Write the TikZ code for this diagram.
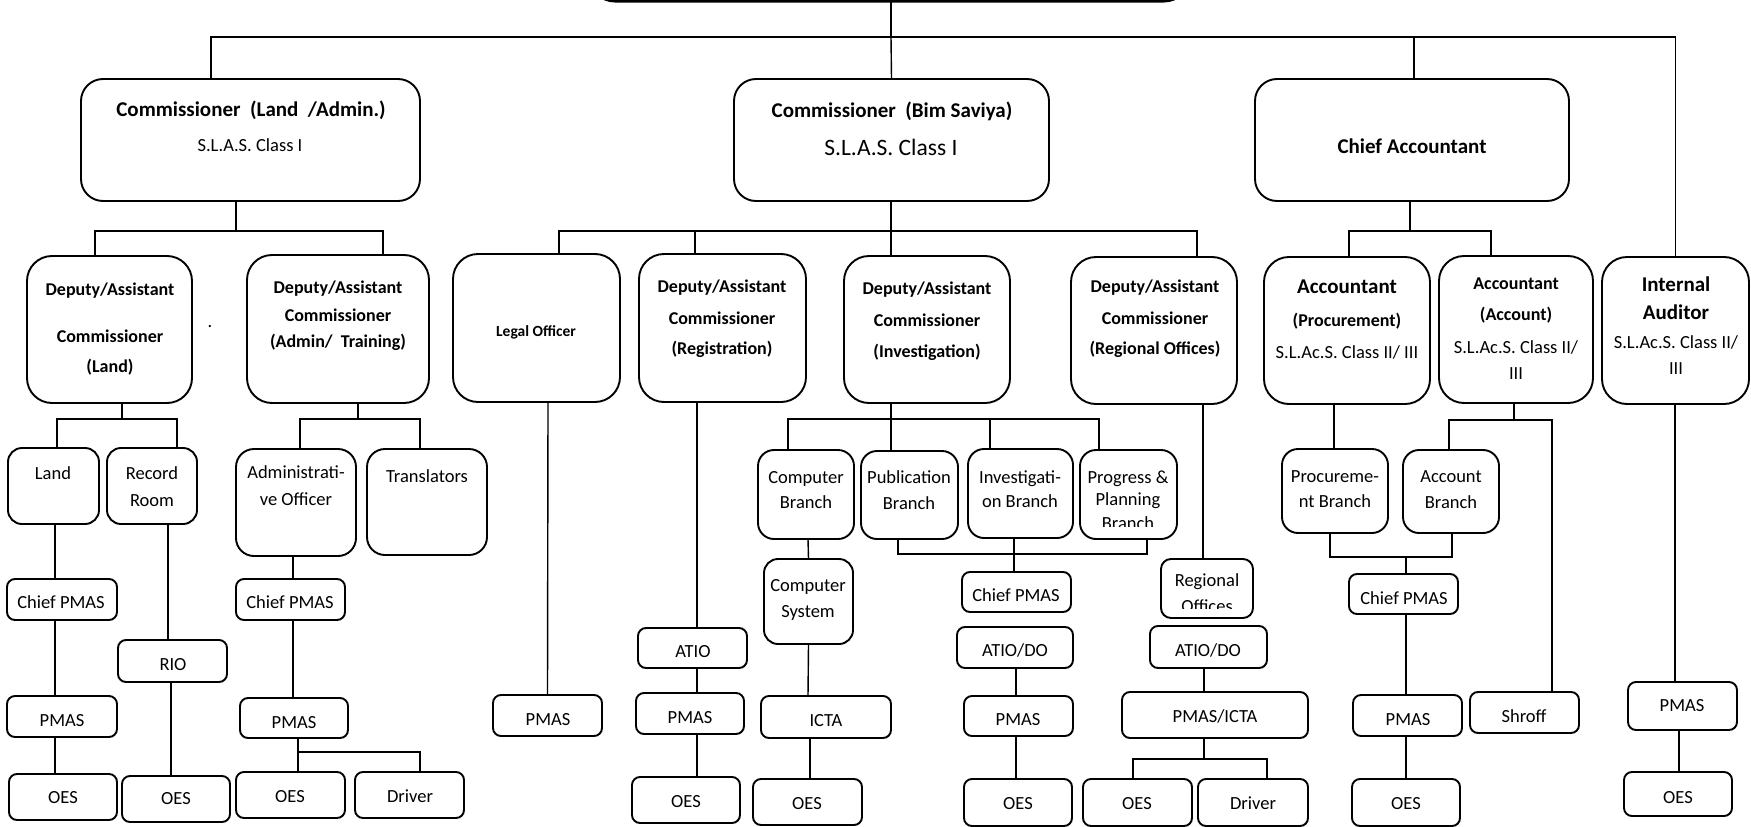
\documentclass[tikz,border=0pt]{standalone}
\usepackage{fontspec}
\setmainfont{Carlito}
\usetikzlibrary{fit}
\newcommand{\myR}{\fontsize{18.5}{22}\selectfont}
\newcommand{\myB}{\fontsize{18}{22}\selectfont\bfseries}
\newcommand{\myBB}{\fontsize{21}{25}\selectfont\bfseries}
\newcommand{\myRR}{\fontsize{23.5}{28}\selectfont}
\newcommand{\myBs}{\fontsize{15.5}{18}\selectfont\bfseries}
\begin{document}
\begin{tikzpicture}[x=1pt,y=-1pt,
  bx/.style={draw, rectangle, line width=1.9pt, inner sep=0pt, outer sep=0pt},
  ln/.style={line width=1.4pt},
  lblR/.style={anchor=base, yshift=-6pt, font=\myR, inner sep=0pt},
  lblB/.style={anchor=base, yshift=-5.8pt, font=\myB, inner sep=0pt},
  lblBB/.style={anchor=base, yshift=-6.8pt, font=\myBB, inner sep=0pt},
  lblRR/.style={anchor=base, yshift=-7.6pt, font=\myRR, inner sep=0pt},
  lblBs/.style={anchor=base, yshift=-5pt, font=\myBs, inner sep=0pt}]
\useasboundingbox[fill=white] (0,0) rectangle (1751,827);

% ---------- boxes ----------
\node[bx, line width=4pt, rounded corners=25pt, fit={(590,-60) (1189,0.5)}] (top) {};
\node[bx, rounded corners=22pt, fit={(81,79) (420,201)}] (cla) {};
\node[bx, rounded corners=22pt, fit={(734,79) (1049,201)}] (cbs) {};
\node[bx, rounded corners=22pt, fit={(1255,79) (1569,201)}] (ca) {};

\node[bx, rounded corners=25pt, fit={(27,256) (192,403)}] (dl) {};
\node[bx, rounded corners=25pt, fit={(247,255) (429,403)}] (dad) {};
\node[bx, rounded corners=25pt, fit={(453,254) (620,402)}] (lo) {};
\node[bx, rounded corners=25pt, fit={(639,254) (806,402)}] (dr) {};
\node[bx, rounded corners=25pt, fit={(844,256) (1010,403)}] (di) {};
\node[bx, rounded corners=25pt, fit={(1071,257) (1237,404)}] (dro) {};
\node[bx, rounded corners=25pt, fit={(1264,257) (1430,404)}] (ap) {};
\node[bx, rounded corners=25pt, fit={(1439,256) (1593,403)}] (aa) {};
\node[bx, rounded corners=25pt, fit={(1602,257) (1749,404)}] (ia) {};

\node[bx, rounded corners=14pt, fit={(8,448) (99,524)}] (land) {};
\node[bx, rounded corners=14pt, fit={(107,448) (197,524)}] (rr) {};
\node[bx, rounded corners=18pt, fit={(236,449) (356,556)}] (ao) {};
\node[bx, rounded corners=18pt, fit={(367,449) (487,555)}] (tr) {};
\node[bx, rounded corners=16pt, fit={(758,450) (854,539)}] (cb) {};
\node[bx, rounded corners=16pt, fit={(861,451) (958,539)}] (pb) {};
\node[bx, rounded corners=16pt, fit={(968,449) (1073,538)}] (ib) {};
\node[bx, rounded corners=16pt, fit={(1080,450) (1177,539)}] (pp) {};
\node[bx, rounded corners=16pt, fit={(1282,449) (1388,533)}] (prb) {};
\node[bx, rounded corners=16pt, fit={(1403,450) (1499,533)}] (ab) {};

\node[bx, rounded corners=8pt, fit={(7,579) (117,620)}] (cpl) {};
\node[bx, rounded corners=8pt, fit={(7,696) (117,737)}] (pml) {};
\node[bx, rounded corners=8pt, fit={(9,774) (117,820)}] (oel) {};
\node[bx, rounded corners=8pt, fit={(118,640) (227,682)}] (rio) {};
\node[bx, rounded corners=8pt, fit={(122,776) (230,822)}] (oer) {};
\node[bx, rounded corners=8pt, fit={(236,579) (345,620)}] (cpa) {};
\node[bx, rounded corners=8pt, fit={(240,698) (348,738)}] (pma) {};
\node[bx, rounded corners=8pt, fit={(236,772) (345,818)}] (oea) {};
\node[bx, rounded corners=8pt, fit={(355,772) (464,818)}] (dra) {};
\node[bx, rounded corners=8pt, fit={(493,695) (602,736)}] (pmlo) {};
\node[bx, rounded corners=8pt, fit={(638,628) (747,668)}] (atr) {};
\node[bx, rounded corners=8pt, fit={(636,693) (744,734)}] (pmr) {};
\node[bx, rounded corners=8pt, fit={(632,777) (740,823)}] (oerg) {};
\node[bx, rounded corners=14pt, fit={(764,559) (853,644)}] (cs) {};
\node[bx, rounded corners=8pt, fit={(761,696) (891,738)}] (icta) {};
\node[bx, rounded corners=8pt, fit={(753,779) (862,825)}] (oec) {};
\node[bx, rounded corners=8pt, fit={(962,572) (1071,612)}] (cpi) {};
\node[bx, rounded corners=8pt, fit={(957,627) (1073,668)}] (ati) {};
\node[bx, rounded corners=8pt, fit={(964,696) (1073,736)}] (pmi) {};
\node[bx, rounded corners=8pt, fit={(964,779) (1072,826)}] (oei) {};
\node[bx, rounded corners=10pt, fit={(1161,559) (1253,618)}] (ro) {};
\node[bx, rounded corners=8pt, fit={(1150,626) (1267,668)}] (atro) {};
\node[bx, rounded corners=8pt, fit={(1122,692) (1308,738)}] (pmic) {};
\node[bx, rounded corners=8pt, fit={(1083,779) (1192,826)}] (oero) {};
\node[bx, rounded corners=8pt, fit={(1198,779) (1308,826)}] (drro) {};
\node[bx, rounded corners=8pt, fit={(1349,574) (1458,614)}] (cpac) {};
\node[bx, rounded corners=8pt, fit={(1353,695) (1462,736)}] (pmac) {};
\node[bx, rounded corners=8pt, fit={(1352,779) (1460,826)}] (oeac) {};
\node[bx, rounded corners=8pt, fit={(1470,692) (1579,733)}] (sh) {};
\node[bx, rounded corners=8pt, fit={(1628,682) (1737,730)}] (pmia) {};
\node[bx, rounded corners=8pt, fit={(1624,772) (1732,816)}] (oeia) {};

% ---------- texts ----------
\node[lblBB] (cla1) at (251,110) {Commissioner~~(Land~~/Admin.)};
\node[lblR] (cla2) at (250,145) {S.L.A.S. Class I};
\node[lblBB] (cbs1) at (892,111) {Commissioner~~(Bim Saviya)};
\node[lblRR] (cbs2) at (891,148) {S.L.A.S. Class I};
\node[lblBB] (ca1) at (1412,147) {Chief Accountant};

\node[lblB] (dl1) at (110,290) {Deputy/Assistant};
\node[lblB] (dl2) at (110,337) {Commissioner};
\node[lblB] (dl3) at (110,367) {(Land)};
\node[anchor=base, font=\myR, inner sep=0pt] (dot) at (210,327) {.};
\node[lblB] (dad1) at (338,288) {Deputy/Assistant};
\node[lblB] (dad2) at (338,316) {Commissioner};
\node[lblB] (dad3) at (338,342) {(Admin/~~Training)};
\node[lblBs] (lo1) at (536,331) {Legal Officer};
\node[lblB] (dr1) at (722,287) {Deputy/Assistant};
\node[lblB] (dr2) at (722,319) {Commissioner};
\node[lblB] (dr3) at (722,349) {(Registration)};
\node[lblB] (di1) at (927,289) {Deputy/Assistant};
\node[lblB] (di2) at (927,321) {Commissioner};
\node[lblB] (di3) at (927,352) {(Investigation)};
\node[lblB] (dro1) at (1155,287) {Deputy/Assistant};
\node[lblB] (dro2) at (1155,319) {Commissioner};
\node[lblB] (dro3) at (1155,349) {(Regional Offices)};
\node[lblBB] (ap1) at (1347,287) {Accountant};
\node[lblB] (ap2) at (1347,321) {(Procurement)};
\node[lblR] (ap3) at (1347,352) {S.L.Ac.S. Class II/ III};
\node[lblB] (aa1) at (1516,284) {Accountant};
\node[lblB] (aa2) at (1516,315) {(Account)};
\node[lblR] (aa3) at (1516,347) {S.L.Ac.S. Class II/};
\node[lblR] (aa4) at (1516,373) {III};
\node[lblBB] (ia1) at (1676,285) {Internal};
\node[lblBB] (ia2) at (1676,313) {Auditor};
\node[lblR] (ia3) at (1676,342) {S.L.Ac.S. Class II/};
\node[lblR] (ia4) at (1676,368) {III};

\node[lblR] (land1) at (53,473) {Land};
\node[lblR] (rr1) at (152,473) {Record};
\node[lblR] (rr2) at (152,500) {Room};
\node[lblR] (ao1) at (296,472) {Administrati-};
\node[lblR] (ao2) at (296,499) {ve Officer};
\node[lblR] (tr1) at (427,476) {Translators};
\node[lblR] (cb1) at (806,477) {Computer};
\node[lblR] (cb2) at (806,502) {Branch};
\node[lblR] (pb1) at (909,477) {Publication};
\node[lblR] (pb2) at (909,503) {Branch};
\node[lblR] (ib1) at (1020,477) {Investigati-};
\node[lblR] (ib2) at (1020,501) {on Branch};
\node[lblR] (pp1) at (1128,477) {Progress \&};
\node[lblR] (pp2) at (1128,499) {Planning};
\begin{scope}
  \clip (1080,450) rectangle (1177,526);
  \node[lblR] (pp3) at (1128,523) {Branch};
\end{scope}
\node[lblR] (prb1) at (1335,476) {Procureme-};
\node[lblR] (prb2) at (1335,501) {nt Branch};
\node[lblR] (ab1) at (1451,476) {Account};
\node[lblR] (ab2) at (1451,502) {Branch};

\node[lblR] (cpl1) at (61,602) {Chief PMAS};
\node[lblR] (pml1) at (62,720) {PMAS};
\node[lblR] (oel1) at (63,797) {OES};
\node[lblR] (rio1) at (173,664) {RIO};
\node[lblR] (oer1) at (176,798) {OES};
\node[lblR] (cpa1) at (290,602) {Chief PMAS};
\node[lblR] (pma1) at (294,722) {PMAS};
\node[lblR] (oea1) at (290,796) {OES};
\node[lblR] (dra1) at (410,796) {Driver};
\node[lblR] (pmlo1) at (548,719) {PMAS};
\node[lblR] (atr1) at (693,651) {ATIO};
\node[lblR] (pmr1) at (690,717) {PMAS};
\node[lblR] (oerg1) at (686,801) {OES};
\node[lblR] (cs1) at (808,585) {Computer};
\node[lblR] (cs2) at (808,611) {System};
\node[lblR] (icta1) at (826,720) {ICTA};
\node[lblR] (oec1) at (807,803) {OES};
\node[lblR] (cpi1) at (1016,595) {Chief PMAS};
\node[lblR] (ati1) at (1015,650) {ATIO/DO};
\node[lblR] (pmi1) at (1018,719) {PMAS};
\node[lblR] (oei1) at (1018,803) {OES};
\node[lblR] (ro1) at (1207,580) {Regional};
\begin{scope}
  \clip (1161,559) rectangle (1253,608);
  \node[lblR] (ro2) at (1207,606) {Offices};
\end{scope}
\node[lblR] (atro1) at (1208,650) {ATIO/DO};
\node[lblR] (pmic1) at (1215,716) {PMAS/ICTA};
\node[lblR] (oero1) at (1137,803) {OES};
\node[lblR] (drro1) at (1253,803) {Driver};
\node[lblR] (cpac1) at (1404,598) {Chief PMAS};
\node[lblR] (pmac1) at (1408,719) {PMAS};
\node[lblR] (oeac1) at (1406,803) {OES};
\node[lblR] (sh1) at (1524,716) {Shroff};
\node[lblR] (pmia1) at (1682,705) {PMAS};
\node[lblR] (oeia1) at (1678,797) {OES};

% ---------- connectors ----------
\coordinate (tb) at (891,37);
\draw[ln] ([xshift=1.5pt]top.south) -- (tb);
\draw[ln] ([xshift=-39.5pt]cla.north) |- (tb) -| (ia.north);
\draw[ln] (cbs.north) -- (tb);
\draw[ln] ([xshift=2pt]ca.north) |- (tb);

\coordinate (j1) at (236,231);
\draw[ln] ([xshift=-14.5pt]cla.south) -- (j1);
\draw[ln] ([xshift=-14.5pt]dl.north) |- (j1) -| ([xshift=45pt]dad.north);

\coordinate (j2) at (891,231);
\draw[ln] ([xshift=-0.5pt]cbs.south) -- (j2);
\draw[ln] ([xshift=22.5pt]lo.north) |- (j2) -| ([xshift=43pt]dro.north);
\draw[ln] ([xshift=-27.5pt]dr.north) |- (j2);
\draw[ln] ([xshift=-36pt]di.north) -- (j2);

\coordinate (j3) at (1410,231);
\draw[ln] ([xshift=-2pt]ca.south) -- (j3);
\draw[ln] ([xshift=2pt]ap.north) |- (j3) -| ([xshift=-25pt]aa.north);

\coordinate (j4) at (122,419);
\draw[ln] ([xshift=12.5pt]dl.south) -- (j4);
\draw[ln] ([xshift=3.5pt]land.north) |- (j4) -| ([xshift=25pt]rr.north);
\draw[ln] ([xshift=1.5pt]land.south) -- ([xshift=-7pt]cpl.north);
\draw[ln] ([xshift=-7pt]cpl.south) -- ([xshift=-7pt]pml.north);
\draw[ln] ([xshift=-7pt]pml.south) -- ([xshift=-8pt]oel.north);
\draw[ln] ([xshift=16pt]rr.south) -- ([xshift=-4.5pt]rio.north);
\draw[ln] ([xshift=-1.5pt]rio.south) -- ([xshift=-5pt]oer.north);

\coordinate (j5) at (358,419);
\draw[ln] ([xshift=20pt]dad.south) -- (j5);
\draw[ln] ([xshift=4pt]ao.north) |- (j5) -| ([xshift=-7pt]tr.north);
\draw[ln] ([xshift=-3pt]ao.south) -- ([xshift=2.5pt]cpa.north);
\draw[ln] ([xshift=2.5pt]cpa.south) -- ([xshift=-1pt]pma.north);
\coordinate (j6) at (298,752);
\draw[ln] ([xshift=4pt]pma.south) -- ([xshift=7.5pt]oea.north);
\draw[ln] (j6) -| ([xshift=10.5pt]dra.north);

\draw[ln] ([xshift=11.5pt]lo.south) -- (pmlo.north);
\draw[ln] ([xshift=-25.5pt]dr.south) -- ([xshift=4.5pt]atr.north);
\draw[ln] ([xshift=4.5pt]atr.south) -- ([xshift=7pt]pmr.north);
\draw[ln] ([xshift=7pt]pmr.south) -- ([xshift=11pt]oerg.north);

\coordinate (j7) at (891,419);
\draw[ln] ([xshift=-36pt]di.south) -- ([xshift=-18.5pt]pb.north);
\draw[ln] ([xshift=-18pt]cb.north) |- (j7) -| ([xshift=-29.5pt]pp.north);
\draw[ln] ([xshift=-30.5pt]ib.north) |- (j7);
\draw[ln] ([xshift=2pt]cb.south) -- (cs.north);
\draw[ln] (cs.south) -- ([xshift=-18pt]icta.north);
\draw[ln] ([xshift=-16pt]icta.south) -- ([xshift=2.5pt]oec.north);

\coordinate (j8) at (1014,554);
\draw[ln] ([xshift=-11.5pt]pb.south) |- (j8) -| ([xshift=18.5pt]pp.south);
\draw[ln] ([xshift=-6.5pt]ib.south) -- ([xshift=-2.5pt]cpi.north);
\draw[ln] ([xshift=1pt]ati.south) -- ([xshift=-2.5pt]pmi.north);
\draw[ln] ([xshift=-2.5pt]pmi.south) -- ([xshift=-2pt]oei.north);

\draw[ln] ([xshift=49pt]dro.south) -- ([xshift=-4pt]ro.north);
\draw[ln] ([xshift=-4.5pt]atro.south) -- ([xshift=-11pt]pmic.north);
\coordinate (j9) at (1204,759);
\draw[ln] ([xshift=-11pt]pmic.south) -- (j9);
\draw[ln] ([xshift=-4.5pt]oero.north) |- (j9) -| ([xshift=14pt]drro.north);

\draw[ln] ([xshift=-13pt]ap.south) -- ([xshift=-1pt]prb.north);
\coordinate (j10) at (1514,420);
\draw[ln] ([xshift=-2pt]aa.south) -- (j10);
\draw[ln] ([xshift=-2pt]ab.north) |- (j10) -| ([xshift=27.5pt]sh.north);
\coordinate (j11) at (1406,557);
\draw[ln] ([xshift=-5pt]prb.south) |- (j11) -| ([xshift=1pt]ab.south);
\draw[ln] (j11) -- ([xshift=2.5pt]cpac.north);
\draw[ln] ([xshift=2.5pt]cpac.south) -- ([xshift=-1.5pt]pmac.north);
\draw[ln] ([xshift=-1.5pt]pmac.south) -- (oeac.north);
\draw[ln] ([xshift=-0.5pt]ia.south) -- ([xshift=-7.5pt]pmia.north);
\draw[ln] ([xshift=-3.5pt]pmia.south) -- ([xshift=1pt]oeia.north);
\end{tikzpicture}
\end{document}
